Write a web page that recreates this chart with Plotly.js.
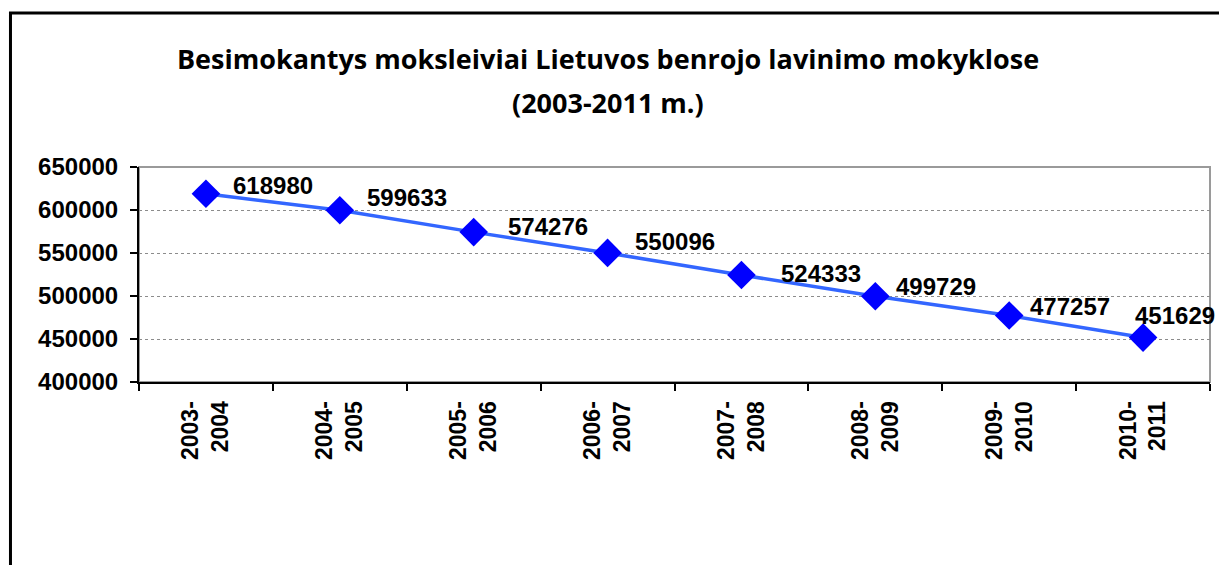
<!DOCTYPE html>
<html>
<head>
<meta charset="utf-8">
<script src="https://cdn.plot.ly/plotly-3.0.1.min.js"></script>
<style>html,body{margin:0;padding:0;background:#fff;}#chart{width:1219px;height:565px;}</style>
</head>
<body>
<div id="chart"></div>
<script>
// Data
const periods = ["2003-2004","2004-2005","2005-2006","2006-2007","2007-2008","2008-2009","2009-2010","2010-2011"];
const students = [618980, 599633, 574276, 550096, 524333, 499729, 477257, 451629];
const titleLine1 = "Besimokantys moksleiviai Lietuvos benrojo lavinimo mokyklose";
const titleLine2 = "(2003-2011 m.)";

// Label nudges (pixels) to mimic the original label placement
const labelDx = [25, 25, 32, 25, 38, 19, 19, -10];
const labelDy = [8, 13, 6, 11, 2, 10, 9, 22];

const tickLabels = periods.map(p => p.replace("-", "-<br>"));
const FONT = "Liberation Sans, Arial, sans-serif";
const TFONT = "Open Sans, Lato, sans-serif";

const trace = {
  type: "scatter",
  mode: "lines+markers",
  x: periods,
  y: students,
  line: {color: "#3366FF", width: 3.5},
  marker: {symbol: "diamond", size: 22, color: "#0000FF", line: {width: 0}},
  hoverinfo: "x+y",
  cliponaxis: false
};

const annotations = students.map((v, i) => ({
  x: periods[i], y: v, xref: "x", yref: "y",
  text: String(v), showarrow: false,
  xanchor: "left", yanchor: "middle",
  xshift: labelDx[i], yshift: labelDy[i],
  font: {family: FONT, size: 24, color: "#000", weight: "bold"}
}));
annotations.push({
  xref: "paper", yref: "paper", x: 0.438, y: 1.30,
  xanchor: "center", yanchor: "middle", showarrow: false,
  text: "<b>" + titleLine2 + "</b>",
  font: {family: TFONT, size: 27, color: "#000"}
});

const layout = {
  width: 1219, height: 565,
  margin: {l: 139, r: 9, t: 167, b: 183},
  paper_bgcolor: "#fff", plot_bgcolor: "#fff",
  showlegend: false,
  title: {
    text: "<b>" + titleLine1 + "</b>",
    x: 0.4988, xanchor: "center", xref: "container",
    y: 0.894, yanchor: "middle", yref: "container",
    font: {family: TFONT, size: 27, color: "#000"}
  },
  xaxis: {
    type: "category",
    range: [-0.5, 7.5],
    tickmode: "array", tickvals: periods, ticktext: tickLabels,
    tickson: "boundaries",
    ticks: "outside", ticklen: 7, tickwidth: 2, tickcolor: "#000",
    tickangle: -90,
    ticklabelstandoff: 8,
    showline: true, linecolor: "#000", linewidth: 2,
    showgrid: false, zeroline: false,
    tickfont: {family: FONT, size: 23, color: "#000", weight: "bold"},
    fixedrange: true
  },
  yaxis: {
    range: [400000, 650000],
    dtick: 50000, tick0: 400000,
    tickformat: "d",
    ticks: "outside", ticklen: 7, tickwidth: 2, tickcolor: "#000",
    ticklabelstandoff: 7,
    showline: true, linecolor: "#000", linewidth: 2,
    showgrid: true, gridcolor: "#8c8c8c", griddash: "dot", gridwidth: 1,
    zeroline: false,
    tickfont: {family: FONT, size: 24, color: "#000", weight: "bold"},
    fixedrange: true
  },
  shapes: [
    {type: "rect", xref: "paper", yref: "paper", x0: 0, x1: 1, y0: 0, y1: 1,
     line: {color: "#9a9a9a", width: 2}, layer: "below"},
    {type: "rect", xref: "paper", yref: "paper", x0: -0.12, x1: 1.1, y0: -0.95, y1: 1.716,
     line: {color: "#000", width: 3}, layer: "above"}
  ],
  annotations: annotations
};

Plotly.newPlot("chart", [trace], layout, {displayModeBar: false, staticPlot: true});
</script>
</body>
</html>
